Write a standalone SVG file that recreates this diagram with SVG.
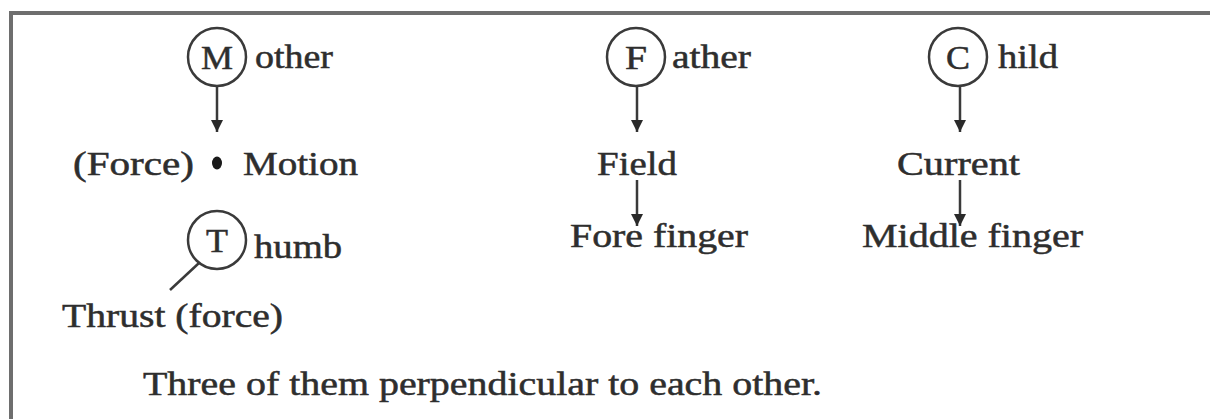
<svg xmlns="http://www.w3.org/2000/svg" width="1210" height="419" viewBox="0 0 1210 419">
<style>
text{font-family:"Liberation Serif","Times New Roman",serif;font-size:33px;fill:#2e2e2e;stroke:#2e2e2e;stroke-width:0.5}
.c{fill:none;stroke:#3a3a3a;stroke-width:2.5}
.l{stroke:#3a3a3a;stroke-width:2.5;fill:none}
</style>
<defs>
<marker id="ah" markerWidth="12" markerHeight="12" refX="10" refY="5" orient="auto" markerUnits="userSpaceOnUse" viewBox="0 0 10 10">
<path d="M0,0 L10,5 L0,10 Z" fill="#2a2a2a"/>
</marker>
</defs>
<rect width="1210" height="419" fill="#fff"/>
<path d="M11,419 V13 H1210" fill="none" stroke="#6e6e6e" stroke-width="4"/>
<g id="mother">
<circle class="c" cx="217" cy="57" r="29"/>
<text x="217" y="69" text-anchor="middle" textLength="32" lengthAdjust="spacingAndGlyphs">M</text>
<text x="255" y="68" textLength="78" lengthAdjust="spacingAndGlyphs">other</text>
</g>
<g id="force-motion">
<text x="73" y="175" textLength="121" lengthAdjust="spacingAndGlyphs">(Force)</text>
<ellipse cx="217" cy="163" rx="5" ry="6.5" fill="#1a1a1a"/>
<text x="243" y="175" textLength="115" lengthAdjust="spacingAndGlyphs">Motion</text>
</g>
<g id="thumb">
<circle class="c" cx="217" cy="240" r="29"/>
<text x="217" y="252" text-anchor="middle" textLength="22" lengthAdjust="spacingAndGlyphs">T</text>
<text x="254" y="258" textLength="88" lengthAdjust="spacingAndGlyphs">humb</text>
</g>
<g id="thrust">
<text x="62" y="327" textLength="221" lengthAdjust="spacingAndGlyphs">Thrust (force)</text>
</g>
<g id="father">
<circle class="c" cx="636" cy="57" r="29"/>
<text x="636" y="69" text-anchor="middle" textLength="22" lengthAdjust="spacingAndGlyphs">F</text>
<text x="672" y="68" textLength="79" lengthAdjust="spacingAndGlyphs">ather</text>
</g>
<g id="field">
<text x="597" y="175" textLength="80" lengthAdjust="spacingAndGlyphs">Field</text>
</g>
<g id="fore-finger">
<text x="570" y="247" textLength="178" lengthAdjust="spacingAndGlyphs">Fore finger</text>
</g>
<g id="child">
<circle class="c" cx="958" cy="57" r="29"/>
<text x="958" y="69" text-anchor="middle" textLength="24" lengthAdjust="spacingAndGlyphs">C</text>
<text x="998" y="68" textLength="60" lengthAdjust="spacingAndGlyphs">hild</text>
</g>
<g id="current">
<text x="897" y="175" textLength="123" lengthAdjust="spacingAndGlyphs">Current</text>
</g>
<g id="middle-finger">
<text x="862" y="247" textLength="221" lengthAdjust="spacingAndGlyphs">Middle finger</text>
</g>
<g id="caption">
<text x="143" y="395" textLength="679" lengthAdjust="spacingAndGlyphs">Three of them perpendicular to each other.</text>
</g>
<g id="connectors">
<line class="l" x1="217" y1="86" x2="217" y2="132" marker-end="url(#ah)"/>
<line class="l" x1="637" y1="86" x2="637" y2="132" marker-end="url(#ah)"/>
<line class="l" x1="960" y1="86" x2="960" y2="132" marker-end="url(#ah)"/>
<line class="l" x1="637" y1="180" x2="637" y2="226" marker-end="url(#ah)"/>
<line class="l" x1="960" y1="180" x2="960" y2="226" marker-end="url(#ah)"/>
<line class="l" x1="199" y1="263" x2="170" y2="290"/>
</g>
</svg>
